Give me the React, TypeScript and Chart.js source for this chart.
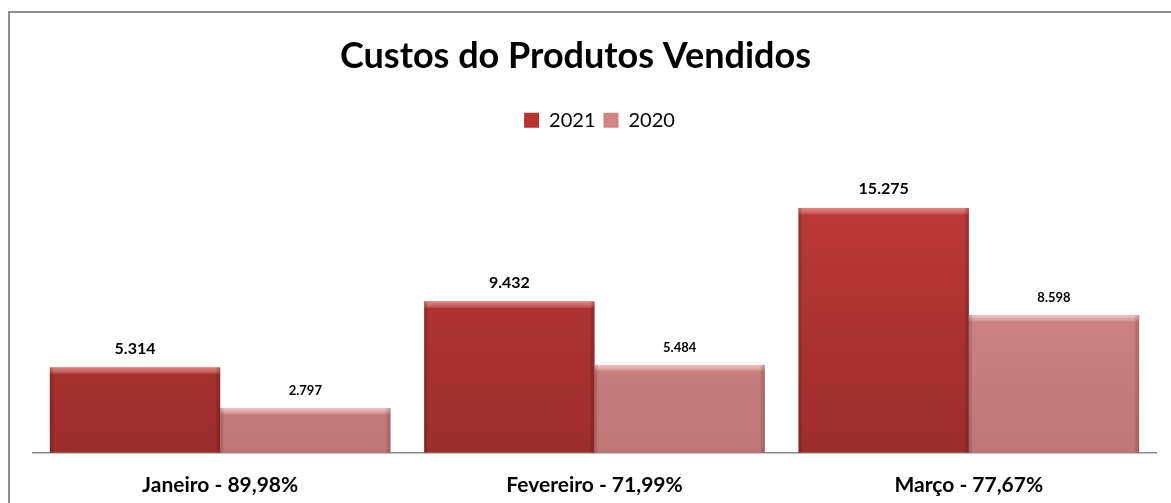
import React, { useEffect, useRef } from "react";
import { Chart, registerables } from "chart.js";

Chart.register(...registerables);

const titleText = "Custos do Produtos Vendidos";
const categories = ["Janeiro - 89,98%", "Fevereiro - 71,99%", "Março - 77,67%"];
const seriesNames = ["2021", "2020"];
const values2021 = [5314, 9432, 15275];
const values2020 = [2797, 5484, 8598];
const yMax = 19500;

const FONT = "Lato, 'Open Sans', sans-serif";

function fmt(v: number): string {
  return String(v).replace(/\B(?=(\d{3})+(?!\d))/g, ".");
}

function makeGradient(ctx: any, top: string, bottom: string) {
  const chart = ctx.chart;
  const area = chart.chartArea;
  if (!area) return top;
  const el = ctx.element;
  const yTop = el && typeof el.y === "number" && isFinite(el.y) ? el.y : area.top;
  const yBot = el && typeof el.base === "number" && isFinite(el.base) ? el.base : area.bottom;
  if (!(yBot > yTop)) return top;
  const g = chart.ctx.createLinearGradient(0, yTop, 0, yBot);
  g.addColorStop(0, top);
  g.addColorStop(1, bottom);
  return g;
}

const framePlugin = {
  id: "frame",
  beforeDraw(chart: any) {
    const c = chart.ctx;
    c.save();
    c.strokeStyle = "#8f8f8f";
    c.lineWidth = 2;
    c.beginPath();
    c.moveTo(9, chart.height + 2);
    c.lineTo(9, 12);
    c.lineTo(chart.width + 2, 12);
    c.stroke();
    c.restore();
  },
};

const shiftPlugin = {
  id: "shift",
  afterLayout(chart: any) {
    if (chart.legend) {
      chart.legend.left += 5;
      chart.legend.right += 5;
    }
    if (chart.titleBlock) {
      chart.titleBlock.left -= 19;
      chart.titleBlock.right -= 19;
    }
  },
};

const bevelPlugin = {
  id: "bevel",
  afterDatasetsDraw(chart: any) {
    const c = chart.ctx;
    const hl = ["rgba(255,140,135,0.75)", "rgba(255,210,210,0.8)"];
    const sh = ["rgba(90,20,20,0.35)", "rgba(110,50,50,0.3)"];
    chart.data.datasets.forEach((ds: any, di: number) => {
      const meta = chart.getDatasetMeta(di);
      meta.data.forEach((bar: any) => {
        const w = bar.width;
        const l = bar.x - w / 2;
        const r = bar.x + w / 2;
        const t = bar.y;
        const b = bar.base;
        c.save();
        const gt = c.createLinearGradient(0, t, 0, t + 7);
        gt.addColorStop(0, hl[di]);
        gt.addColorStop(1, "rgba(255,255,255,0)");
        c.fillStyle = gt;
        c.fillRect(l, t, w, 7);
        const gr = c.createLinearGradient(r - 5, 0, r, 0);
        gr.addColorStop(0, "rgba(0,0,0,0)");
        gr.addColorStop(1, sh[di]);
        c.fillStyle = gr;
        c.fillRect(r - 5, t, 5, b - t);
        const gl = c.createLinearGradient(l, 0, l + 4, 0);
        gl.addColorStop(0, sh[di]);
        gl.addColorStop(1, "rgba(0,0,0,0)");
        c.fillStyle = gl;
        c.fillRect(l, t, 4, b - t);
        c.restore();
      });
    });
  },
};

const labelPlugin = {
  id: "valueLabels",
  afterDatasetsDraw(chart: any) {
    const c = chart.ctx;
    const sizes = [16, 13];
    const offsets = [19, 17];
    chart.data.datasets.forEach((ds: any, di: number) => {
      const meta = chart.getDatasetMeta(di);
      meta.data.forEach((bar: any, i: number) => {
        c.save();
        c.font = `bold ${sizes[di]}px ${FONT}`;
        c.fillStyle = "#000";
        c.textAlign = "center";
        c.textBaseline = "middle";
        c.fillText(fmt(ds.data[i]), bar.x, bar.y - offsets[di]);
        c.restore();
      });
    });
  },
};

export default function App() {
  const ref = useRef<HTMLCanvasElement | null>(null);
  useEffect(() => {
    if (!ref.current) return;
    const solid = ["#b83432", "#d08484"];
    const chart = new Chart(ref.current, {
      type: "bar",
      data: {
        labels: categories,
        datasets: [
          {
            label: seriesNames[0],
            data: values2021,
            backgroundColor: (ctx: any) => makeGradient(ctx, "#c43d3b", "#9c2d2b"),
            borderWidth: 0,
            categoryPercentage: 0.91,
            barPercentage: 1,
          },
          {
            label: seriesNames[1],
            data: values2020,
            backgroundColor: (ctx: any) => makeGradient(ctx, "#de8e8e", "#bf7676"),
            borderWidth: 0,
            categoryPercentage: 0.91,
            barPercentage: 1,
          },
        ],
      },
      options: {
        responsive: false,
        animation: false,
        devicePixelRatio: 1,
        layout: { padding: { left: 33, right: 15, top: 0, bottom: -15 } },
        plugins: {
          title: {
            display: true,
            text: titleText,
            color: "#000",
            font: { family: FONT, size: 36, weight: "bold" },
            padding: { top: 35, bottom: 24 },
          },
          legend: {
            display: true,
            position: "top",
            labels: {
              color: "#000",
              font: { family: FONT, size: 20 },
              boxWidth: 15,
              boxHeight: 15,
              padding: 8,
              generateLabels: (ch: any) =>
                ch.data.datasets.map((ds: any, i: number) => ({
                  text: ds.label,
                  fillStyle: solid[i],
                  strokeStyle: solid[i],
                  lineWidth: 0,
                  hidden: false,
                  datasetIndex: i,
                  fontColor: "#000",
                })),
            },
          },
          tooltip: { enabled: false },
        },
        scales: {
          x: {
            grid: { display: false, drawTicks: false },
            border: { display: true, color: "#8a8a8a", width: 1.5 },
            ticks: {
              color: "#000",
              font: { family: FONT, size: 21, weight: "bold" },
              padding: 20,
            },
          },
          y: {
            display: false,
            min: 0,
            max: yMax,
          },
        },
      },
      plugins: [framePlugin, shiftPlugin, bevelPlugin, labelPlugin],
    } as any);
    return () => chart.destroy();
  }, []);
  return (
    <div style={{ position: "fixed", left: 0, top: 0, width: 1171, height: 503, background: "#fff" }}>
      <canvas ref={ref} width={1171} height={503} style={{ display: "block", width: 1171, height: 503 }} />
    </div>
  );
}
